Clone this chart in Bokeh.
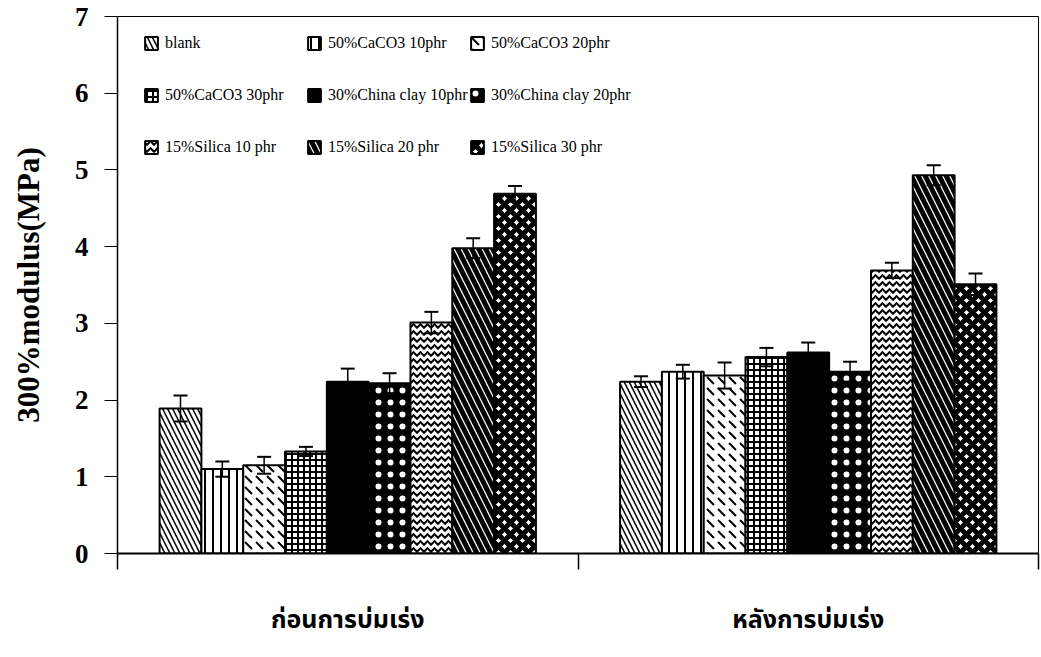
from bokeh.plotting import figure
from bokeh.models import (ColumnDataSource, Range1d, FixedTicker, Whisker, TeeHead,
                          Legend, LegendItem)
from bokeh.embed import file_html
from bokeh.resources import INLINE

# ---- data -------------------------------------------------------------
groups = ["ก่อนการบ่มเร่ง", "หลังการบ่มเร่ง"]
series = ["blank", "50%CaCO3 10phr", "50%CaCO3 20phr",
          "50%CaCO3 30phr", "30%China clay 10phr", "30%China clay 20phr",
          "15%Silica 10 phr", "15%Silica 20 phr", "15%Silica 30 phr"]
before = [1.89, 1.10, 1.15, 1.33, 2.24, 2.22, 3.01, 3.98, 4.69]
before_err = [0.17, 0.10, 0.11, 0.06, 0.17, 0.13, 0.14, 0.13, 0.10]
after = [2.24, 2.37, 2.32, 2.56, 2.62, 2.37, 3.69, 4.93, 3.51]
after_err = [0.07, 0.09, 0.17, 0.12, 0.13, 0.13, 0.10, 0.13, 0.14]
y_ticks = [0, 1, 2, 3, 4, 5, 6, 7]

# fill / hatch style of each series (black and white print look)
styles = [
    dict(fill_color="white", hatch_pattern="\\", hatch_scale=10, hatch_weight=1.5),
    dict(fill_color="white", hatch_pattern="|", hatch_scale=8, hatch_weight=2),
    dict(fill_color="white", hatch_pattern="`", hatch_scale=11, hatch_weight=2),
    dict(fill_color="white", hatch_pattern="+", hatch_scale=6, hatch_weight=2),
    dict(fill_color="black", hatch_pattern=None),
    dict(fill_color="black", hatch_pattern=".", hatch_scale=12, hatch_weight=3, hatch_color="white"),
    dict(fill_color="white", hatch_pattern="v", hatch_scale=7, hatch_weight=2),
    dict(fill_color="white", hatch_pattern="\\", hatch_scale=14, hatch_weight=5),
    dict(fill_color="white", hatch_pattern="x", hatch_scale=12, hatch_weight=5),
]

SERIF = "Liberation Serif"
THAI = "'Noto Sans Thai', 'Noto Serif Thai', Loma, Garuda, Tahoma, 'Liberation Serif', sans-serif"
bar_w = 0.0908
n = len(series)
group_pos = [g + 0.5 for g in range(len(groups))]

p = figure(width=1041, height=657, output_backend="svg", toolbar_location=None,
           x_range=Range1d(0, 2), y_range=Range1d(0, 7),
           min_border_left=117, min_border_right=3, min_border_top=16,
           min_border_bottom=104)
p.xgrid.visible = False
p.ygrid.visible = False
p.outline_line_color = "black"
p.outline_line_width = 1
p.background_fill_color = "white"
p.border_fill_color = "white"

# ---- bars -------------------------------------------------------------
renderers = []
xs_all, up_all, lo_all = [], [], []
for i, name in enumerate(series):
    xs = [c + (i - (n - 1) / 2) * bar_w for c in group_pos]
    tops = [before[i], after[i]]
    errs = [before_err[i], after_err[i]]
    src = ColumnDataSource(dict(x=xs, top=tops))
    st = dict(styles[i])
    st.setdefault("hatch_color", "black")
    r = p.vbar(x="x", top="top", width=bar_w, bottom=0, source=src,
               line_color="black", line_width=2, **st)
    renderers.append(r)
    for x, t, e in zip(xs, tops, errs):
        xs_all.append(x)
        up_all.append(t + e)
        lo_all.append(t - e)

err_src = ColumnDataSource(dict(base=xs_all, upper=up_all, lower=lo_all))
whisk = Whisker(source=err_src, base="base", upper="upper", lower="lower",
                line_color="black", line_width=1.5, level="annotation",
                upper_head=TeeHead(size=14, line_width=2, line_color="black"),
                lower_head=TeeHead(size=14, line_width=2, line_color="black"))
p.add_layout(whisk)

# ---- axes -------------------------------------------------------------
p.yaxis.ticker = FixedTicker(ticks=y_ticks)
p.yaxis.minor_tick_line_color = None
p.yaxis.major_tick_in = 0
p.yaxis.major_tick_out = 13
p.yaxis.major_label_standoff = 16
p.yaxis.major_label_text_font = SERIF
p.yaxis.major_label_text_font_style = "bold"
p.yaxis.major_label_text_font_size = "27px"
p.yaxis.major_label_text_color = "black"
p.yaxis.axis_line_width = 1.5
p.yaxis.axis_label = "300%modulus(MPa)"
p.yaxis.axis_label_text_font = SERIF
p.yaxis.axis_label_text_font_style = "bold"
p.yaxis.axis_label_text_font_size = "31px"
p.yaxis.axis_label_text_color = "black"
p.yaxis.axis_label_standoff = 26

# group names sit at the group centres; boundary marks are the minor ticks
p.xaxis.ticker = FixedTicker(ticks=group_pos, minor_ticks=[0, 1, 2])
p.xaxis.major_label_overrides = {c: name for c, name in zip(group_pos, groups)}
p.xaxis.major_tick_line_color = None
p.xaxis.major_tick_in = 0
p.xaxis.major_tick_out = 0
p.xaxis.minor_tick_in = 0
p.xaxis.minor_tick_out = 16
p.xaxis.minor_tick_line_color = "black"
p.xaxis.minor_tick_line_width = 1.5
p.xaxis.major_label_standoff = 31
p.xaxis.major_label_text_font = THAI
p.xaxis.major_label_text_font_style = "bold"
p.xaxis.major_label_text_font_size = "25px"
p.xaxis.major_label_text_color = "black"
p.xaxis.axis_line_width = 2

# ---- legend: three rows of three -------------------------------------
row_y = [500, 448, 396]
for row in range(3):
    items = [LegendItem(label=series[row * 3 + c], renderers=[renderers[row * 3 + c]])
             for c in range(3)]
    leg = Legend(items=items, orientation="horizontal", location=(26, row_y[row]),
                 padding=0, margin=0, spacing=0, border_line_alpha=0,
                 background_fill_alpha=0, glyph_width=16, glyph_height=16,
                 label_standoff=6, label_width=141, label_height=20,
                 label_text_font=SERIF, label_text_font_style="normal",
                 label_text_font_size="16px", label_text_color="black")
    p.add_layout(leg)

open("out.html", "w").write(file_html(p, INLINE))
